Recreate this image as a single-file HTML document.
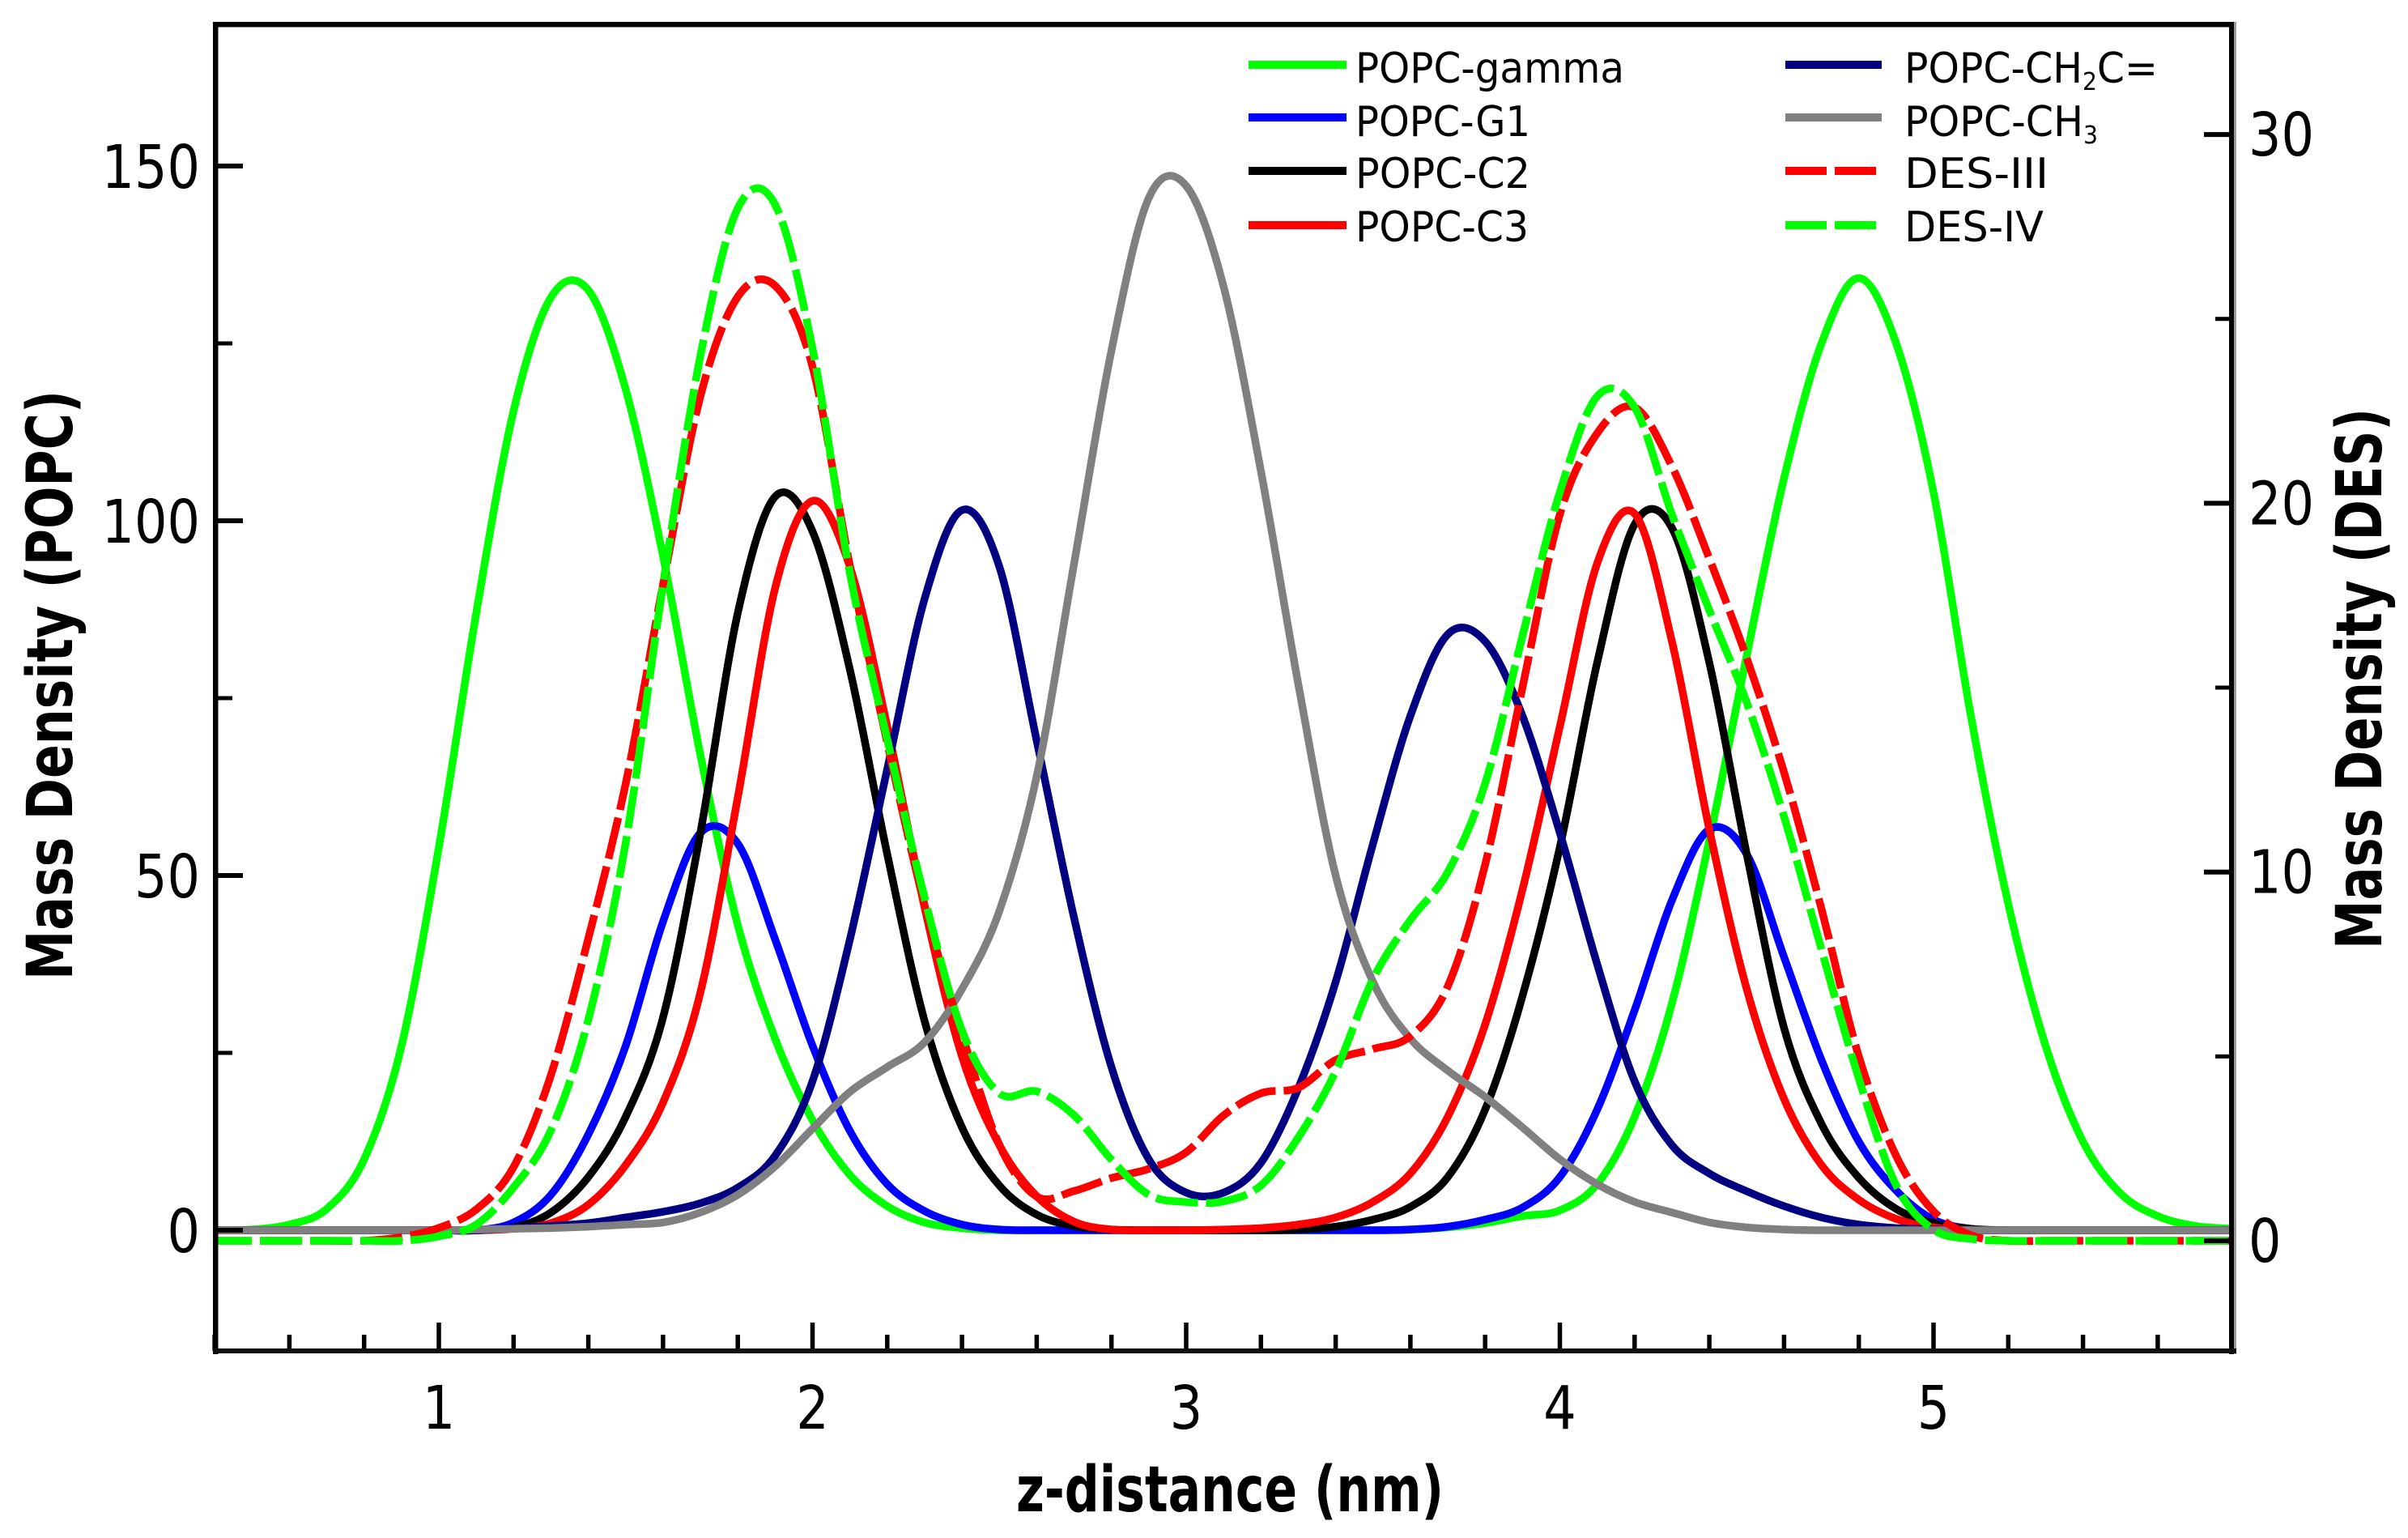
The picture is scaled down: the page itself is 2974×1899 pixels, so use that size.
<!DOCTYPE html>
<html lang="en">
<head>
<meta charset="utf-8">
<title>Mass density profiles of POPC groups and DES</title>
<style>
html,body{margin:0;padding:0;background:#fff;}
svg{display:block;}
text{font-family:"DejaVu Sans","Liberation Sans",sans-serif;fill:#000;}
.tick-label{font-size:74px;}
.legend-text{font-size:52px;}
.axis-title{font-size:78px;font-weight:bold;}
</style>
</head>
<body>
<svg id="chart" xmlns="http://www.w3.org/2000/svg" width="2974" height="1899" viewBox="0 0 2974 1899">
  <defs>
    <clipPath id="plot-clip"><rect x="266" y="30" width="2491" height="1638"/></clipPath>
  </defs>
  <rect x="0" y="0" width="2974" height="1899" fill="#fff"/>
  <g id="series-layer" clip-path="url(#plot-clip)" fill="none" stroke-linejoin="round"></g>
  <g id="ticks-layer"></g>
  <g>
    <rect x="263" y="27" width="2499" height="6.5" fill="#000"/>
    <rect x="263" y="27" width="6.5" height="1645" fill="#000"/>
    <rect x="2753" y="27" width="6" height="1645" fill="#000"/>
    <rect x="2759" y="27" width="3" height="1645" fill="#999"/>
    <rect x="263" y="1665" width="2499" height="6" fill="#111"/>
  </g>
  <g id="labels-layer"></g>

  <text class="axis-title" x="1255" y="1866" textLength="528" lengthAdjust="spacingAndGlyphs">z-distance (nm)</text>
  <text class="axis-title" transform="translate(89,1210) rotate(-90)" textLength="728" lengthAdjust="spacingAndGlyphs">Mass Density (POPC)</text>
  <text class="axis-title" transform="translate(2941,1172) rotate(-90)" textLength="668" lengthAdjust="spacingAndGlyphs">Mass Density (DES)</text>

  <g>
    <g>
      <line x1="1542" x2="1663" y1="80" y2="80" stroke="#00ff00" stroke-width="10"/>
      <text class="legend-text" x="1674" y="102" textLength="332" lengthAdjust="spacingAndGlyphs">POPC-gamma</text>
    </g>
    <g>
      <line x1="1542" x2="1663" y1="145" y2="145" stroke="#0000ff" stroke-width="10"/>
      <text class="legend-text" x="1674" y="168" textLength="216" lengthAdjust="spacingAndGlyphs">POPC-G1</text>
    </g>
    <g>
      <line x1="1542" x2="1663" y1="211" y2="211" stroke="#000" stroke-width="10"/>
      <text class="legend-text" x="1674" y="232" textLength="216" lengthAdjust="spacingAndGlyphs">POPC-C2</text>
    </g>
    <g>
      <line x1="1542" x2="1663" y1="278" y2="278" stroke="#ff0000" stroke-width="10"/>
      <text class="legend-text" x="1674" y="298" textLength="214" lengthAdjust="spacingAndGlyphs">POPC-C3</text>
    </g>
    <g>
      <line x1="2205" x2="2324" y1="80" y2="80" stroke="#000080" stroke-width="10"/>
      <text class="legend-text" x="2352" y="102" textLength="313" lengthAdjust="spacingAndGlyphs">POPC-CH<tspan font-size="30" dy="9">2</tspan><tspan dy="-9">C=</tspan></text>
    </g>
    <g>
      <line x1="2205" x2="2324" y1="145" y2="145" stroke="#808080" stroke-width="10"/>
      <text class="legend-text" x="2352" y="168" textLength="239" lengthAdjust="spacingAndGlyphs">POPC-CH<tspan font-size="30" dy="9">3</tspan></text>
    </g>
    <g>
      <line x1="2205" x2="2318" y1="211" y2="211" stroke="#ff0000" stroke-width="10" stroke-dasharray="51 10"/>
      <text class="legend-text" x="2352" y="232" textLength="178" lengthAdjust="spacingAndGlyphs">DES-III</text>
    </g>
    <g>
      <line x1="2205" x2="2318" y1="278" y2="278" stroke="#00ff00" stroke-width="10" stroke-dasharray="51 10"/>
      <text class="legend-text" x="2352" y="298" textLength="172" lengthAdjust="spacingAndGlyphs">DES-IV</text>
    </g>
  </g>
</svg>
<script>
// Chart data
const zValues = [0.4,0.5,0.6,0.7,0.8,0.9,
  1.0,1.1,1.2,1.3,1.4,1.5,1.6,1.7,1.8,1.9,
  2.0,2.1,2.2,2.3,2.4,2.5,2.6,2.7,2.8,2.9,
  3.0,3.1,3.2,3.3,3.4,3.5,3.6,3.7,3.8,3.9,
  4.0,4.1,4.2,4.3,4.4,4.5,4.6,4.7,4.8,4.9,
  5.0,5.1,5.2,5.3,5.4,5.5,5.6,5.7,5.8];
const popcGamma = [0,0.1,0.8,3,10,26,
  54,87,115.5,131.5,132.5,118.5,95,67,43,27,
  15.5,7.8,3.4,1.1,0.3,0,0,0,0,0,
  0,0,0,0,0,0,0.1,0.4,1,2,
  2.8,6.5,16,32,55,81,106,125,134.2,125,
  104,72.5,46,26,12.5,5.2,2,0.6,0.2];
const popcG1 = [0,0,0,0,0,0,
  0,0,1.1,5,13.5,26,43.5,56,54.5,41,
  26,14,6.5,2.7,0.8,0.1,0,0,0,0,
  0,0,0,0,0,0,0.1,0.5,1.5,3.2,
  7.5,17,31,46.5,56.5,53,38.5,24,12.5,5.6,
  1.5,0.2,0,0,0,0,0,0,0];
const popcC2 = [0,0,0,0,0,0,
  0,0,0.4,2.5,7.5,16,30,56,87,103.4,
  98.5,79,53,29.5,14.5,6.3,2.2,0.6,0.1,0,
  0,0,0,0.1,0.5,1.5,3.3,7.5,17,33,
  54,80,99.5,99,80,53,28.5,15,7.4,3,
  1,0.2,0,0,0,0,0,0,0];
const popcC3 = [0,0,0,0,0,0,
  0,0,0.2,1,3.6,9.2,18,33.5,61,90.5,
  102.8,93.5,71,45.5,24.5,12,4.8,1.2,0.1,0,
  0,0.1,0.3,0.8,1.8,4,8,16,29,48,
  71,94,101,83,56.5,34,18.5,9.2,4.3,1.6,
  0.4,0,0,0,0,0,0,0,0];
const popcCH2C = [0,0,0,0,0,0,
  0,0,0.3,0.6,1,1.8,2.6,3.8,6,10.5,
  21,41,65,89,101.5,93.5,69,44,23,10,
  5.3,5.3,9.5,20,35,54.5,72.5,84,83,72.5,
  56,37.5,21,12,8,5.5,3.4,1.8,0.8,0.3,
  0.1,0,0,0,0,0,0,0,0];
const popcCH3 = [0,0,0,0,0,0,
  0,0.1,0.2,0.3,0.5,0.8,1.1,2.5,5,9,
  14.3,19.5,23,26.5,34,45,64,94,124,145.5,
  147.2,133,107,77,50,35,27,22.5,18.8,14.5,
  10,6.5,4,2.5,1.1,0.4,0.1,0,0,0,
  0,0,0,0,0,0,0,0,0];
const desIII = [0,0,0,0,0,0.1,
  0.35,0.85,2,4.5,8.2,12.4,17.8,22.9,25.6,25.9,
  23.7,18.3,13.5,9.1,5.6,2.6,1.2,1.35,1.7,1.95,
  2.4,3.4,4,4.15,4.9,5.2,5.55,6.9,10.2,15,
  19.7,21.9,22.6,21,18.5,15.8,12.7,9,5,2.3,
  0.8,0.15,0,0,0,0,0,0,0];
const desIV = [0,0,0,0,0,0,
  0.12,0.44,1.45,3,6,10.8,17.8,24,28,28.1,
  24.2,18.1,13.6,9.3,5.7,4,4.05,3.4,2.2,1.25,
  1.05,1.07,1.5,2.8,4.6,7.1,8.7,10,12.4,16.4,
  20.3,22.9,22.6,19.7,17.1,14.6,11.5,7.9,4.4,1.5,
  0.3,0.05,0,0,0,0,0,0,0];
const xTickLabels = ["1","2","3","4","5"];
const leftTickLabels = ["0","50","100","150"];
const rightTickLabels = ["0","10","20","30"];

// Axis functions
const NS = 'http://www.w3.org/2000/svg';
function xScale(z){ return 542 + (z - 1) * 461.5; }
function yLeft(v){ return 1519 - v * 8.76; }
function yRight(v){ return 1532 - v * 45.53; }

function splinePath(zs, vs, yFn){
  const p = zs.map((z, i) => [xScale(z), yFn(vs[i])]);
  let d = 'M' + p[0][0].toFixed(1) + ' ' + p[0][1].toFixed(1);
  for (let i = 0; i < p.length - 1; i++) {
    const a = p[Math.max(i - 1, 0)], b = p[i], c = p[i + 1], e = p[Math.min(i + 2, p.length - 1)];
    const c1x = b[0] + (c[0] - a[0]) / 6, c1y = b[1] + (c[1] - a[1]) / 6;
    const c2x = c[0] - (e[0] - b[0]) / 6, c2y = c[1] - (e[1] - b[1]) / 6;
    d += 'C' + c1x.toFixed(1) + ' ' + c1y.toFixed(1) + ' ' + c2x.toFixed(1) + ' ' + c2y.toFixed(1) + ' ' + c[0].toFixed(1) + ' ' + c[1].toFixed(1);
  }
  return d;
}

const seriesLayer = document.getElementById('series-layer');
function drawSeries(name, values, yFn, color, dashed){
  const path = document.createElementNS(NS, 'path');
  
  
  path.setAttribute('d', splinePath(zValues, values, yFn));
  path.setAttribute('stroke', color);
  path.setAttribute('stroke-width', '9.5');
  if (dashed) {
    path.setAttribute('stroke-dasharray', '52 10');
    path.setAttribute('stroke-dashoffset', '6');
  }
  seriesLayer.appendChild(path);
}
drawSeries('series-popc-gamma', popcGamma, yLeft, '#00ff00', false);
drawSeries('series-popc-g1', popcG1, yLeft, '#0000ff', false);
drawSeries('series-popc-c2', popcC2, yLeft, '#000000', false);
drawSeries('series-popc-c3', popcC3, yLeft, '#ff0000', false);
drawSeries('series-popc-ch2c', popcCH2C, yLeft, '#000080', false);
drawSeries('series-popc-ch3', popcCH3, yLeft, '#808080', false);
drawSeries('series-des-iii', desIII, yRight, '#ff0000', true);
drawSeries('series-des-iv', desIV, yRight, '#00ff00', true);

// Ticks
const ticksLayer = document.getElementById('ticks-layer');
const labelsLayer = document.getElementById('labels-layer');
function tickLine(name, x1, y1, x2, y2, w){
  const l = document.createElementNS(NS, 'line');
  
  
  l.setAttribute('x1', x1);
  l.setAttribute('y1', y1);
  l.setAttribute('x2', x2);
  l.setAttribute('y2', y2);
  l.setAttribute('stroke', '#000');
  l.setAttribute('stroke-width', w);
  ticksLayer.appendChild(l);
}
function tickText(name, x, y, str, anchor, sx){
  const t = document.createElementNS(NS, 'text');
  
  
  t.setAttribute('class', 'tick-label');
  t.setAttribute('text-anchor', anchor);
  t.setAttribute('transform', 'translate(' + x + ',' + y + ') scale(' + sx + ',1)');
  t.textContent = str;
  labelsLayer.appendChild(t);
}
// x axis: major every label, four minors between
for (let m = 2; m <= 28; m++) {
  const z = m / 5;
  const major = m % 5 === 0;
  tickLine(major ? 'x-major-tick' : 'x-minor-tick', xScale(z), 1668, xScale(z), major ? 1633 : 1648, 5.5);
}
xTickLabels.forEach(s => tickText('x-tick-label-' + s, xScale(Number(s)), 1764, s, 'middle', 0.86));
// left y axis
[0,25,50,75,100,125,150].forEach(v => {
  const major = v % 50 === 0;
  tickLine(major ? 'left-major-tick' : 'left-minor-tick', 266, yLeft(v), major ? 300 : 287, yLeft(v), major ? 6 : 5);
});
leftTickLabels.forEach(s => tickText('left-tick-label-' + s, 247, yLeft(Number(s)) + 27, s, 'end', 0.86));
// right y axis
[0,5,10,15,20,25,30].forEach(v => {
  const major = v % 10 === 0;
  tickLine(major ? 'right-major-tick' : 'right-minor-tick', 2757, yRight(v), major ? 2722 : 2736, yRight(v), major ? 6 : 5);
});
rightTickLabels.forEach(s => tickText('right-tick-label-' + s, 2777, yRight(Number(s)) + 26, s, 'start', 0.86));
</script>
</body>
</html>
